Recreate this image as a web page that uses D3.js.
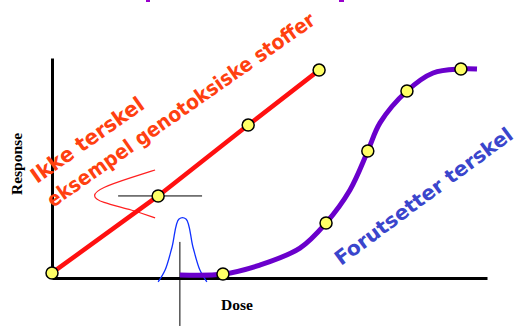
<!DOCTYPE html>
<html><head><meta charset="utf-8">
<script src="https://cdn.jsdelivr.net/npm/d3@7"></script>
<style>body{margin:0;background:#fff}</style>
</head><body>
<script>
// Data (dose 0-100, response 0-100)
const redDose = [0, 24.4, 45.1, 61.4];
const redResp = [2.3, 37.3, 69.5, 94.5];
const purpleDose = [39.3, 63.0, 72.6, 81.6, 94.0];
const purpleResp = [1.8, 25, 57.7, 85, 95];
const purpleCurveDose = [29.4, 39.3, 47.8, 57.0, 63.0, 68.5, 72.6, 75.4, 81.6, 87.6, 94.0, 97.7];
const purpleCurveResp = [1.4, 1.8, 5.9, 13.6, 25, 40, 57.7, 70.5, 85, 93.2, 95, 95];
const redDistDose = [23.7, 18.6, 11.0, 9.2, 11.0, 18.6, 23.7];
const redDistResp = [49.1, 45.9, 40.9, 37.3, 34.5, 30.9, 27.3];
const blueDistDose = [24.4, 26.0, 27.6, 29.2, 30.8, 32.4, 34.0, 35.6];
const blueDistResp = [-1.8, 3.6, 14.1, 26.8, 26.8, 14.1, 3.6, -1.8];
const hLine = {dose: [15.2, 34.5], resp: [37.3, 37.3]};
const vLine = {dose: [29.4, 29.4], resp: [16.4, -21.8]};
const labels = {x: "Dose", y: "Response", red1: "Ikke terskel", red2: "eksempel genotoksiske stoffer", blue: "Forutsetter terskel"};

const W = 518, H = 326;
const svg = d3.select("body").append("svg").attr("width", W).attr("height", H);
const x = d3.scaleLinear().domain([0, 100]).range([52, 487]);
const y = d3.scaleLinear().domain([0, 100]).range([278, 58]);

// cut-off title fragments
svg.append("rect").attr("x",146).attr("y",0).attr("width",4).attr("height",2).attr("fill","#9900cc");
svg.append("rect").attr("x",339).attr("y",0).attr("width",5).attr("height",2).attr("fill","#9900cc");

// axes
svg.append("g").attr("transform","translate(0,"+y(0)+")")
  .call(d3.axisBottom(x).ticks(0).tickSizeOuter(0))
  .call(g=>g.select(".domain").attr("stroke","#000").attr("stroke-width",3));
svg.append("g").attr("transform","translate("+x(0)+",0)")
  .call(d3.axisLeft(y).ticks(0).tickSizeOuter(0))
  .call(g=>g.select(".domain").attr("stroke","#000").attr("stroke-width",3));

const zip = (a,b)=>a.map((v,i)=>[v,b[i]]);
const mk = c => { const l = d3.line().x(d=>x(d[0])).y(d=>y(d[1])); return c ? l.curve(c) : l; };

// helper lines
svg.append("path").attr("d", mk()(zip(hLine.dose,hLine.resp))).attr("stroke","#000").attr("stroke-width",1).attr("fill","none");
svg.append("path").attr("d", mk()(zip(vLine.dose,vLine.resp))).attr("stroke","#000").attr("stroke-width",1).attr("fill","none");

// red distribution
svg.append("path").attr("d", mk(d3.curveBasis)(zip(redDistDose, redDistResp)))
  .attr("stroke","#ff2020").attr("stroke-width",1.2).attr("fill","none");
// blue distribution
svg.append("path").attr("d", mk(d3.curveCatmullRom)(zip(blueDistDose, blueDistResp)))
  .attr("stroke","#1030ff").attr("stroke-width",1.3).attr("fill","none");

// red line
svg.append("path").attr("d", mk()(zip(redDose, redResp)))
  .attr("stroke","#ff1010").attr("stroke-width",4.5).attr("fill","none");
// purple curve
svg.append("path").attr("d", mk(d3.curveCatmullRom)(zip(purpleCurveDose, purpleCurveResp)))
  .attr("stroke","#6a00cc").attr("stroke-width",5).attr("fill","none").attr("stroke-linecap","butt");

// markers
const pts = zip(redDose, redResp).concat(zip(purpleDose, purpleResp));
svg.selectAll("circle.m").data(pts).enter().append("circle")
  .attr("cx", d=>x(d[0])).attr("cy", d=>y(d[1])).attr("r", 6)
  .attr("fill","#ffff66").attr("stroke","#000").attr("stroke-width",1.5);

// axis labels
svg.append("text").attr("x", 237).attr("y", 310).attr("text-anchor","middle")
  .attr("font-family","Liberation Serif, serif").attr("font-weight","bold").attr("font-size",15.5).text(labels.x);
svg.append("text").attr("transform","translate(22,164) rotate(-90)").attr("text-anchor","middle")
  .attr("font-family","Liberation Serif, serif").attr("font-weight","bold").attr("font-size",15.5).text(labels.y);

// annotations
const font = "'Comic Sans MS', 'DejaVu Sans', sans-serif";
function ann(t, px, py, ang, len, col, fs){
  svg.append("text").attr("transform","translate("+px+","+py+") rotate("+ang+")")
    .attr("font-family", font).attr("font-weight","bold").attr("font-size", fs).attr("fill", col)
    .attr("textLength", len).attr("lengthAdjust","spacingAndGlyphs").text(t);
}
ann(labels.red1, 37, 184, -35, 133, "#ff4010", 21);
ann(labels.red2, 53, 208, -35, 322, "#ff4010", 20.5);
ann(labels.blue, 341, 266, -36.5, 216, "#3a45cc", 20);
</script>
</body></html>
